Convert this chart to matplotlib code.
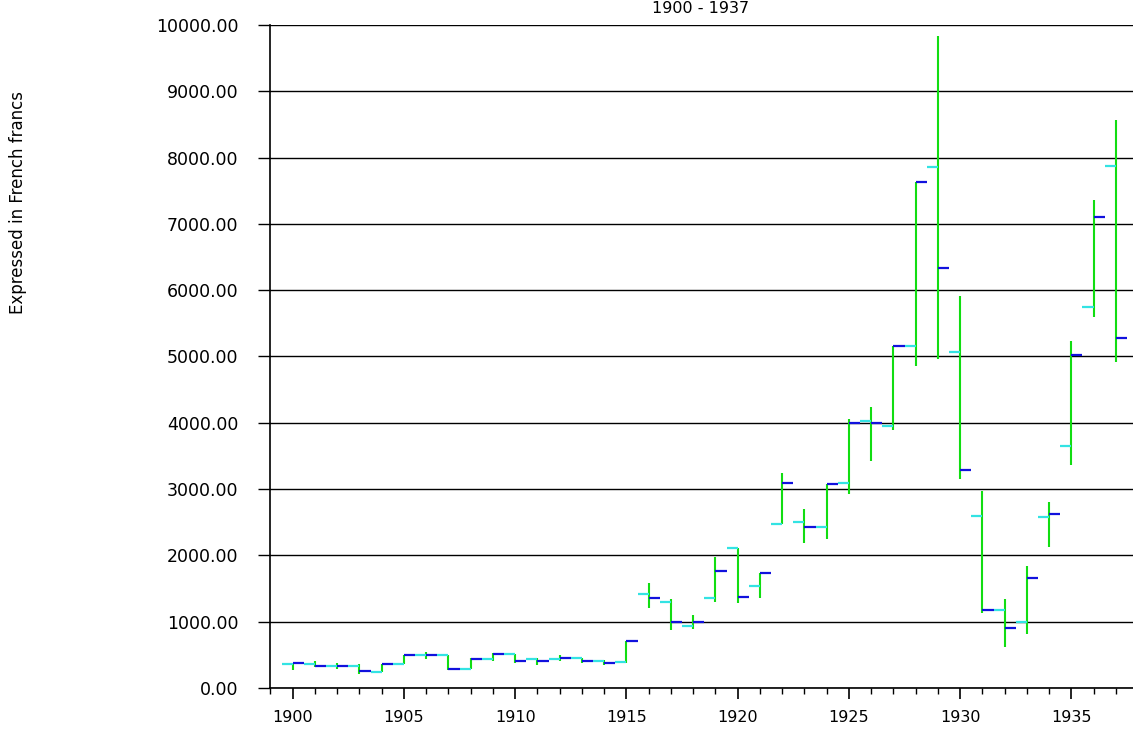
import numpy as np
import matplotlib.pyplot as plt
from matplotlib.ticker import MultipleLocator, FormatStrFormatter

# Yearly values (French francs): open, high, low, close
years = np.arange(1900, 1938)
opens = [357, 357, 336, 336, 237, 357, 498, 498, 291, 437,
         518, 437, 437, 457, 412, 397, 1422, 1301, 940, 1362,
         2107, 1543, 2468, 2503, 2433, 3091, 4031, 3955, 5162, 7857,
         5062, 2589, 1176, 1000, 2574, 3654, 5745, 7876]
highs = [381, 402, 372, 362, 357, 502, 543, 498, 447, 523,
         518, 447, 502, 457, 427, 713, 1588, 1342, 1105, 1971,
         2107, 1730, 3237, 2694, 3071, 4056, 4242, 5162, 7626, 9832,
         5911, 2975, 1337, 1844, 2810, 5228, 7358, 8565]
lows = [271, 312, 291, 211, 237, 357, 433, 271, 291, 412,
        377, 347, 412, 377, 347, 382, 1211, 875, 890, 1292,
        1277, 1353, 2468, 2182, 2242, 2925, 3428, 3891, 4860, 4961,
        3147, 1126, 614, 814, 2122, 3363, 5599, 4921]
closes = [377, 336, 336, 252, 357, 498, 498, 291, 437, 518,
          412, 412, 457, 412, 377, 713, 1362, 1000, 1000, 1764,
          1377, 1730, 3091, 2433, 3071, 4001, 4001, 5162, 7626, 6329,
          3287, 1176, 900, 1663, 2629, 5022, 7107, 5282]

fig = plt.figure(figsize=(11.33, 7.38), dpi=100)
ax = fig.add_axes([0.2383, 0.0678, 0.7617, 0.8984])

ax.vlines(years, lows, highs, color='#11dd11', lw=1.5)
ax.hlines(opens, years - 0.5, years, color='#33e3e3', lw=1.6)
ax.hlines(closes, years, years + 0.5, color='#1111dd', lw=1.6)

ax.set_xlim(1898.98, 1937.77)
ax.set_ylim(0, 10000)

ax.yaxis.set_major_locator(MultipleLocator(1000))
ax.yaxis.set_major_formatter(FormatStrFormatter('%.2f'))
ax.xaxis.set_major_locator(MultipleLocator(5))
ax.xaxis.set_minor_locator(MultipleLocator(1))

ax.grid(axis='y', color='black', lw=1)
ax.set_axisbelow(True)
for s in ['top', 'right']:
    ax.spines[s].set_visible(False)
ax.spines['left'].set_linewidth(1.2)
ax.spines['bottom'].set_linewidth(1.2)

ax.tick_params(axis='y', which='major', length=8.6, width=1, pad=14, labelsize=12.5)
ax.tick_params(axis='x', which='major', length=8, width=1.2, pad=8, labelsize=11.5)
ax.tick_params(axis='x', which='minor', length=4.3, width=1)

fig.text(18 / 1133, 1 - 202 / 738, 'Expressed in French francs', rotation=90,
         ha='center', va='center', fontsize=12)
fig.text(701 / 1133, 0.999, '1900 - 1937', ha='center', va='top', fontsize=11.5)

fig.savefig('out.png', dpi=100)
